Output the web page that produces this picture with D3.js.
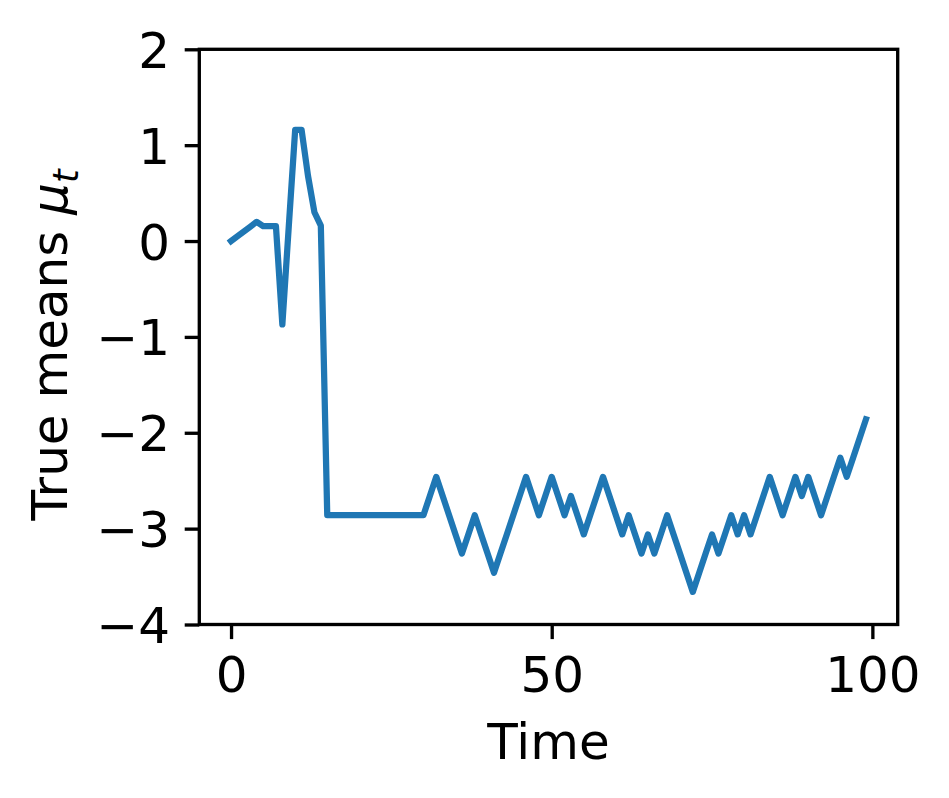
<!DOCTYPE html>
<html>
<head>
<meta charset="utf-8">
<script src="https://cdn.jsdelivr.net/npm/d3@7/dist/d3.min.js"></script>
<style>
  html, body { margin: 0; padding: 0; background: #fff; }
  svg { display: block; }
  text { font-family: "DejaVu Sans", sans-serif; fill: #000; }
</style>
</head>
<body>
<script>
// ---- data ----
const times = d3.range(0, 100);
const trueMeans = [
  0, 0.05, 0.1, 0.15, 0.2, 0.155, 0.155, 0.155, -0.87, 0.15,
  1.16, 1.16, 0.68, 0.3, 0.16, -2.86, -2.86, -2.86, -2.86, -2.86,
  -2.86, -2.86, -2.86, -2.86, -2.86, -2.86, -2.86, -2.86, -2.86, -2.86,
  -2.86, -2.66, -2.46, -2.66, -2.86, -3.06, -3.26, -3.06, -2.86, -3.06,
  -3.26, -3.46, -3.26, -3.06, -2.86, -2.66, -2.46, -2.66, -2.86, -2.66,
  -2.46, -2.66, -2.86, -2.66, -2.86, -3.06, -2.86, -2.66, -2.46, -2.66,
  -2.86, -3.06, -2.86, -3.06, -3.26, -3.06, -3.26, -3.06, -2.86, -3.06,
  -3.26, -3.46, -3.66, -3.46, -3.26, -3.06, -3.26, -3.06, -2.86, -3.06,
  -2.86, -3.06, -2.86, -2.66, -2.46, -2.66, -2.86, -2.66, -2.46, -2.66,
  -2.46, -2.66, -2.86, -2.66, -2.46, -2.26, -2.46, -2.26, -2.06, -1.86
];
const xTicks = [0, 50, 100];
const yTicks = [-4, -3, -2, -1, 0, 1, 2];
const xLabel = "Time";
const yLabelMain = "True means ";

// ---- layout ----
const W = 949, H = 798;
const mLeft = 199.3, mRight = 897.7, mTop = 49.3, mBottom = 624.5;
const fs = 50;          // 12pt @ 300dpi
const tickLen = 14.6, tickPad = 14.6, lw = 3.33;

const svg = d3.select("body").append("svg").attr("width", W).attr("height", H);

const x = d3.scaleLinear().domain([-4.95, 103.95]).range([mLeft, mRight]);
const y = d3.scaleLinear().domain([-4, 2]).range([mBottom, mTop]);

const fmt = d => (d < 0 ? "\u2212" + Math.abs(d) : String(d));

// line
const line = d3.line().x((d, i) => x(times[i])).y(d => y(d));
svg.append("path")
  .datum(trueMeans)
  .attr("d", line)
  .attr("fill", "none")
  .attr("stroke", "#1f77b4")
  .attr("stroke-width", 6.25)
  .attr("stroke-linejoin", "round")
  .attr("stroke-linecap", "square");

// x axis
const gx = svg.append("g").attr("transform", `translate(0,${mBottom})`)
  .call(d3.axisBottom(x).tickValues(xTicks).tickFormat(fmt).tickSize(tickLen).tickPadding(tickPad));
gx.select(".domain").remove();
gx.selectAll(".tick line").attr("stroke", "#000").attr("stroke-width", lw);
gx.selectAll(".tick text").attr("font-size", fs).attr("font-family", "DejaVu Sans")
  .attr("dy", null).attr("y", 692 - mBottom);

// y axis
const gy = svg.append("g").attr("transform", `translate(${mLeft},0)`)
  .call(d3.axisLeft(y).tickValues(yTicks).tickFormat(fmt).tickSize(tickLen).tickPadding(tickPad));
gy.select(".domain").remove();
gy.selectAll(".tick line").attr("stroke", "#000").attr("stroke-width", lw);
gy.selectAll(".tick text").attr("font-size", fs).attr("font-family", "DejaVu Sans")
  .attr("dy", "0.36em");

// spines
svg.append("rect")
  .attr("x", mLeft).attr("y", mTop)
  .attr("width", mRight - mLeft).attr("height", mBottom - mTop)
  .attr("fill", "none").attr("stroke", "#000").attr("stroke-width", lw)
  .attr("stroke-linejoin", "miter");

// x label
svg.append("text")
  .attr("x", (mLeft + mRight) / 2).attr("y", 759)
  .attr("text-anchor", "middle").attr("font-size", fs)
  .text(xLabel);

// y label
const yl = svg.append("text")
  .attr("transform", `translate(67,${(mTop + mBottom) / 2 + 8}) rotate(-90)`)
  .attr("text-anchor", "middle").attr("font-size", fs);
yl.append("tspan").text(yLabelMain);
yl.append("tspan").attr("font-style", "italic").text("\u03bc");
yl.append("tspan").attr("font-style", "italic").attr("font-size", fs * 0.7)
  .attr("dy", 0.22 * fs).text("t");
</script>
</body>
</html>
